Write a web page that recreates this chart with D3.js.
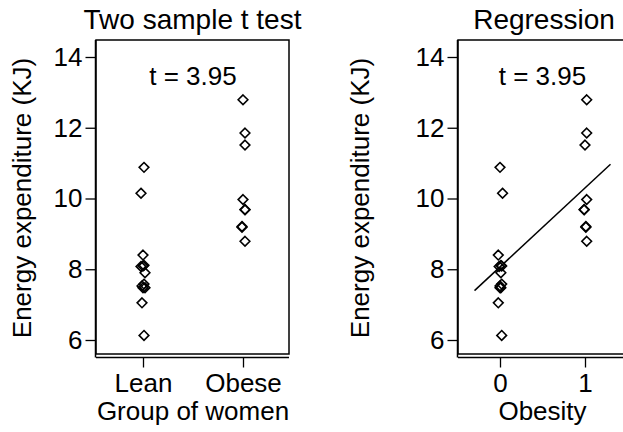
<!DOCTYPE html>
<html>
<head>
<meta charset="utf-8">
<script src="https://d3js.org/d3.v7.min.js"></script>
<style>
  body { margin: 0; background: #fff; }
  text { font-family: "Liberation Sans", Arial, Helvetica, sans-serif; fill: #000; }
</style>
</head>
<body>
<div id="chart"></div>
<script>

// energy expenditure (KJ) for lean and obese women
var lean  = [6.13, 7.05, 7.48, 7.48, 7.53, 7.58, 7.90, 8.08, 8.09, 8.11, 8.40, 10.15, 10.88];
var obese = [8.79, 9.19, 9.21, 9.68, 9.69, 9.97, 11.51, 11.85, 12.79];

// small horizontal jitter (in x units)
var leanJitterA  = [0.01, -0.01, 0.00, 0.02, -0.01, 0.01, 0.02, -0.02, 0.00, 0.01, 0.00, -0.02, 0.01];
var obeseJitterA = [0.02, -0.01, -0.01, 0.02, 0.02, 0.00, 0.02, 0.02, 0.00];
var leanJitterB  = [0.02, -0.02, 0.00, 0.01, 0.00, 0.02, 0.01, -0.01, 0.02, 0.01, -0.02, 0.03, 0.00];
var obeseJitterB = [0.02, 0.01, 0.01, -0.01, -0.01, 0.02, 0.00, 0.02, 0.02];

var groupLabels = ["Lean", "Obese"];
var obesityTicks = [0, 1];
var yTicks = [6, 8, 10, 12, 14];
var tLabel = "t = 3.95";

var W = 623, H = 432;

var svg = d3.select("#chart")
  .append("svg")
    .attr("width", W)
    .attr("height", H);

var points = lean.map(function(v, i) { return {g: 0, v: v, jA: leanJitterA[i], jB: leanJitterB[i]}; })
  .concat(obese.map(function(v, i) { return {g: 1, v: v, jA: obeseJitterA[i], jB: obeseJitterB[i]}; }));

var diamond = d3.symbol().type(d3.symbolDiamond2 || d3.symbolSquare2).size(60);

function panel(o) {
  var g = svg.append("g");

  var x = d3.scaleLinear().domain([0, 1]).range(o.xr);
  var y = d3.scaleLinear().domain([6, 14]).range([340, 57]);

  // plot box
  g.append("rect")
    .attr("x", o.box[0]).attr("y", 40)
    .attr("width", o.box[1] - o.box[0]).attr("height", 314)
    .attr("fill", "none").attr("stroke", "#000").attr("stroke-width", 1.5);

  // axes
  var yAxis = g.append("g")
    .attr("transform", "translate(" + (o.box[0] - 0.5) + ",0)")
    .call(d3.axisLeft(y).tickValues(yTicks).tickSize(10).tickPadding(3).tickSizeOuter(0));
  yAxis.select(".domain").attr("d", "M0,40V357.5").attr("stroke-width", 1.5);

  var xAxis = g.append("g")
    .attr("transform", "translate(0,357.5)")
    .call(d3.axisBottom(x).tickValues([0, 1]).tickSize(10).tickPadding(6)
      .tickFormat(function(d, i) { return o.xlabels[i]; }));
  xAxis.select(".domain").attr("d", "M" + o.box[0] + ",0H" + o.box[1]).attr("stroke-width", 1.5);

  g.selectAll(".tick line").attr("stroke-width", 1.3);
  g.selectAll(".tick text")
    .style("font-size", "26px")
    .style("font-family", "'Liberation Sans', Arial, Helvetica, sans-serif");

  // axis titles
  g.append("text")
    .attr("transform", "translate(" + o.ylabX + ",198) rotate(-90)")
    .attr("text-anchor", "middle")
    .style("font-size", "26px")
    .text("Energy expenditure (KJ)");

  g.append("text")
    .attr("x", x(0.5)).attr("y", 420)
    .attr("text-anchor", "middle")
    .style("font-size", "26px")
    .text(o.xtitle);

  g.append("text")
    .attr("x", o.titleX).attr("y", 29)
    .attr("text-anchor", "middle")
    .style("font-size", "28px")
    .text(o.title);

  g.append("text")
    .attr("x", x(0.5)).attr("y", 85)
    .attr("text-anchor", "middle")
    .style("font-size", "26px")
    .text(tLabel);

  if (o.fit) {
    var m0 = d3.mean(lean), m1 = d3.mean(obese);
    var xs = [-0.3, 1.3];
    g.append("line")
      .attr("x1", x(xs[0])).attr("y1", y(m0 + (m1 - m0) * xs[0]))
      .attr("x2", x(xs[1])).attr("y2", y(m0 + (m1 - m0) * xs[1]))
      .attr("stroke", "#000").attr("stroke-width", 1.5);
  }

  g.selectAll(".pt")
    .data(points)
    .enter()
    .append("path")
      .attr("class", "pt")
      .attr("transform", function(d) { return "translate(" + x(d.g + d[o.jit]) + "," + y(d.v) + ")"; })
      .attr("d", diamond)
      .attr("fill", "none")
      .attr("stroke", "#000")
      .attr("stroke-width", 1.6);
}

panel({
  box: [96, 289], xr: [143, 243], xlabels: groupLabels,
  xtitle: "Group of women", title: "Two sample t test", titleX: 192.5,
  ylabX: 31, jit: "jA", fit: false
});

panel({
  box: [458, 628], xr: [500, 585], xlabels: obesityTicks.map(String),
  xtitle: "Obesity", title: "Regression", titleX: 544,
  ylabX: 369, jit: "jB", fit: true
});

</script>
</body>
</html>
